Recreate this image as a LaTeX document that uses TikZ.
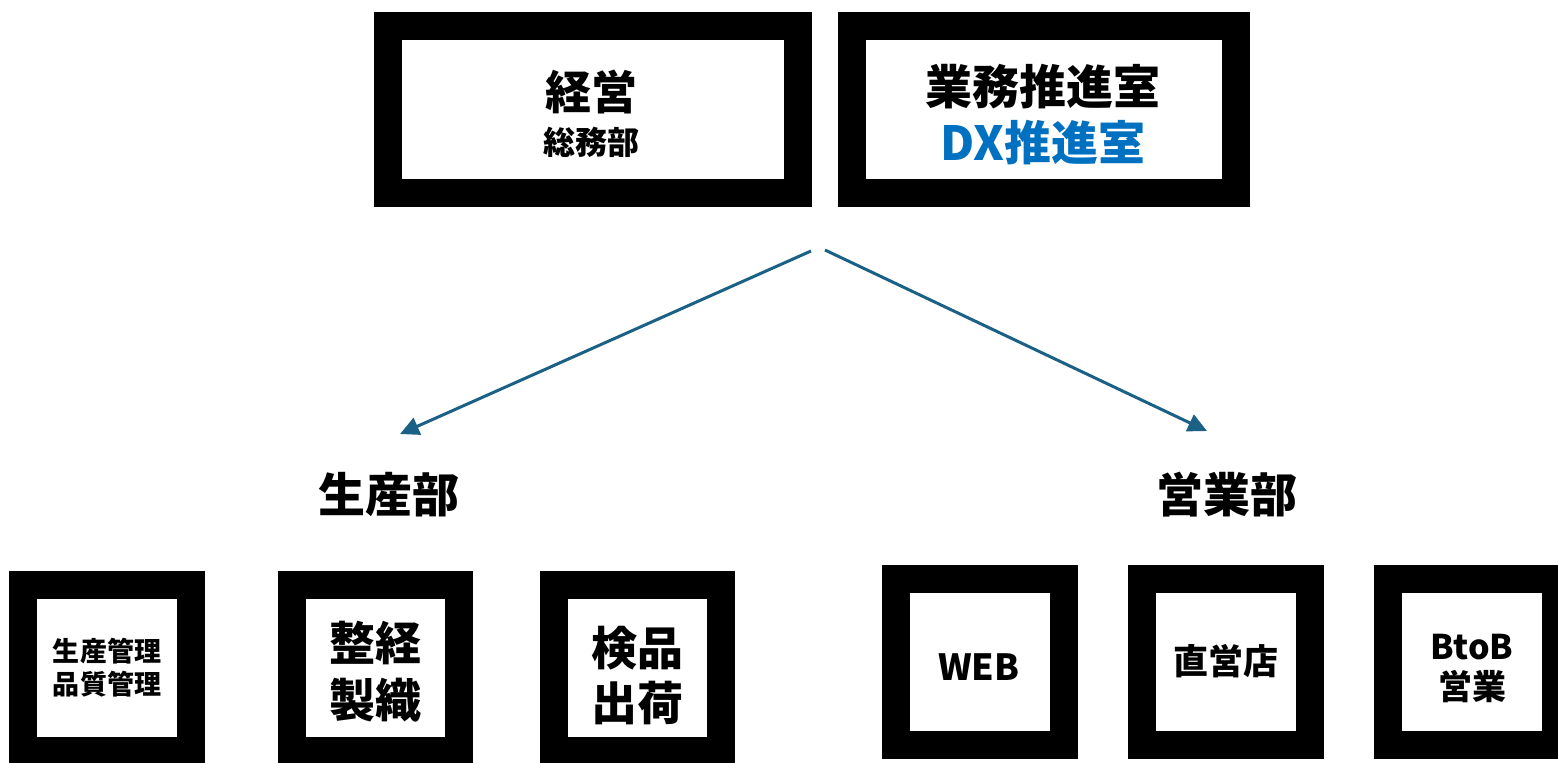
\documentclass[tikz,border=0pt]{standalone}
\usepackage{fontspec}
\setmainfont{Noto Sans CJK JP}
\usetikzlibrary{arrows.meta}
\definecolor{arrowblue}{HTML}{1B6186}
\definecolor{dxblue}{HTML}{0070C0}
\tikzset{
  frame/.style={draw=black, fill=white, line width=14pt, inner sep=0pt},
  lbl/.style={inner sep=0pt, align=center, font=\bfseries},
  conn/.style={draw=arrowblue, line width=1.5pt, -{Triangle[length=9.5pt,width=9pt]}},
}
\newcommand{\fs}[2]{\fontsize{#1}{#2}\selectfont}
\begin{document}
\begin{tikzpicture}[x=0.5pt,y=-0.5pt]
\useasboundingbox (0,0) rectangle (1558,762);
\clip (0,0) rectangle (1558,762);
% top boxes
\node[frame, minimum width=205pt, minimum height=83.75pt] (keiei) at (593,109.25) {};
\node[frame, minimum width=192pt, minimum height=83.75pt] (gyomu) at (1044,109.25) {};
\node[lbl, font=\bfseries\fs{23}{28}] (keieiT) at (591,92) {経営};
\node[lbl, font=\bfseries\fs{16}{20}] (somuT) at (591,142) {総務部};
\node[lbl, font=\bfseries\fs{23.5}{28}] (gyomuT) at (1043,87) {業務推進室};
\node[lbl, font=\bfseries\fs{23.5}{28}, text=dxblue] (dxT) at (1043,143) {DX推進室};
% arrows
\coordinate (srcL) at (811,251);
\coordinate (srcR) at (825,250);
\coordinate (tipL) at (400,434);
\coordinate (tipR) at (1207,431);
\draw[conn] (srcL) -- (tipL);
\draw[conn] (srcR) -- (tipR);
% department labels
\node[lbl, font=\bfseries\fs{23.5}{28}] (seisan) at (389,495) {生産部};
\node[lbl, font=\bfseries\fs{23.5}{28}] (eigyo) at (1227,495) {営業部};
% bottom boxes
\node[frame, minimum width=84pt, minimum height=83pt] (kanri) at (107,668) {};
\node[frame, minimum width=83.5pt, minimum height=83pt] (seishoku) at (375.5,668) {};
\node[frame, minimum width=83.5pt, minimum height=83pt] (kenpin) at (637.5,668) {};
\node[frame, minimum width=84pt, minimum height=83pt] (web) at (980,662) {};
\node[frame, minimum width=84pt, minimum height=83pt] (chokuei) at (1226,662) {};
\node[frame, minimum width=84pt, minimum height=83pt] (btob) at (1472,662) {};
\node[lbl, font=\bfseries\fs{13.5}{16.5}] (kanriT) at (107,668) {生産管理\\品質管理};
\node[lbl, font=\bfseries\fs{23}{28.5}] (seishokuT) at (375,672) {整経\\製織};
\node[lbl, font=\bfseries\fs{23}{27.5}] (kenpinT) at (637,676) {検品\\出荷};
\node[lbl, font=\bfseries\fs{18}{20}] (webT) at (979,667) {WEB};
\node[lbl, font=\bfseries\fs{17.5}{20}] (chokueiT) at (1226,661) {直営店};
\node[lbl, font=\bfseries\fs{17}{20}] (btobT) at (1472,668) {BtoB\\営業};
\end{tikzpicture}
\end{document}
